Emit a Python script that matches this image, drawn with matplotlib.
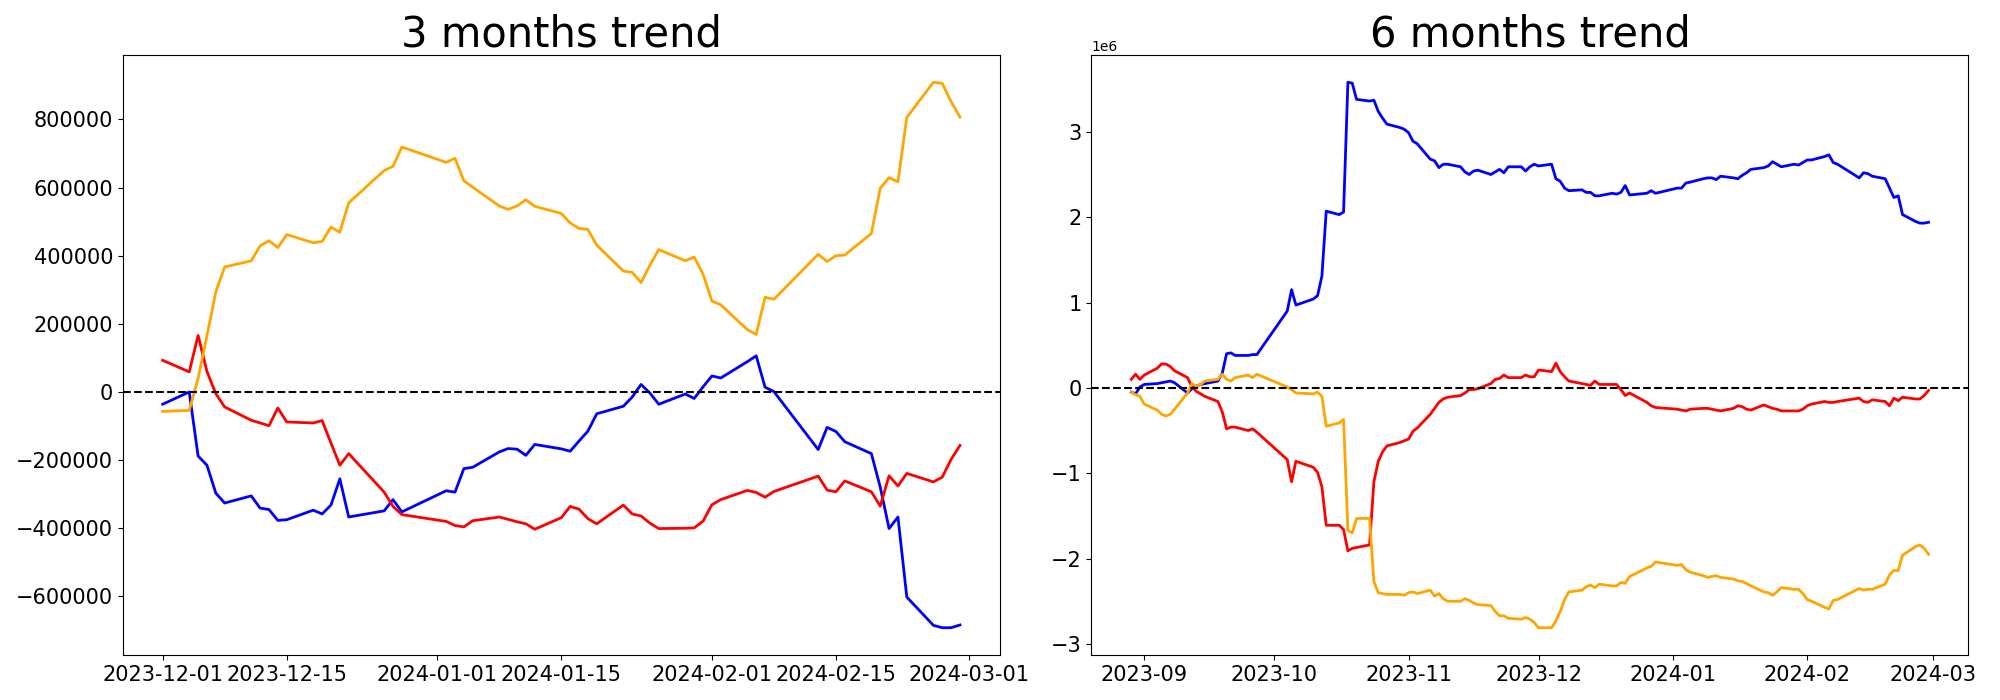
import pandas as pd
import matplotlib
matplotlib.use("Agg")
import matplotlib.pyplot as plt

# KRX closing days inside the plotted ranges
holidays = ['2023-09-28', '2023-09-29', '2023-10-02', '2023-10-03', '2023-10-09',
            '2023-12-25', '2023-12-29', '2024-01-01', '2024-02-09', '2024-02-12']

dates_3m = pd.bdate_range('2023-12-01', '2024-02-29', freq='C', holidays=holidays)
dates_6m = pd.bdate_range('2023-08-29', '2024-02-29', freq='C', holidays=holidays)

# 3 months (Dec / Jan / Feb)
blue_3m = [-36000, 0, -188000, -215000, -297000, -326000, -305000, -341000, -345000, -377000,
           -375000, -347000, -358000, -332000, -255000, -367000, -349000, -316000, -352000,
           -290000, -294000, -225000, -221000, -176000, -166000, -168000, -186000, -154000,
           -167000, -174000, -144000, -115000, -64000, -42000, -15000, 22000, -3000, -36000,
           -6000, -19000, 15000,
           47000, 41000, 89000, 106000, 14000, 1000, -169000, -104000, -116000, -146000,
           -181000, -279000, -401000, -367000, -602000, -685000, -692000, -692000, -684000]
red_3m = [93000, 59000, 166000, 60000, -5000, -44000, -83000, -91000, -99000, -47000,
          -88000, -91000, -84000, -150000, -215000, -181000, -294000, -336000, -360000,
          -380000, -392000, -396000, -378000, -367000, -374000, -381000, -387000, -403000,
          -369000, -336000, -344000, -372000, -387000, -332000, -358000, -364000, -385000,
          -401000, -400000, -399000, -379000,
          -331000, -316000, -289000, -295000, -309000, -292000, -247000, -288000, -293000,
          -261000, -293000, -335000, -246000, -276000, -239000, -264000, -250000, -198000, -157000]
orange_3m = [-57000, -54000, 40000, 165000, 294000, 367000, 385000, 429000, 444000, 424000,
             462000, 438000, 442000, 484000, 469000, 555000, 650000, 662000, 719000,
             674000, 686000, 620000, 601000, 546000, 536000, 546000, 564000, 545000,
             524000, 496000, 480000, 477000, 431000, 355000, 351000, 321000, 372000, 418000,
             385000, 396000, 346000,
             267000, 256000, 183000, 169000, 278000, 272000, 404000, 383000, 400000, 402000,
             465000, 598000, 629000, 617000, 806000, 909000, 906000, 852000, 807000]

# 6 months, in millions
blue_6m = [-0.05, -0.07, 0.01,
           0.04, 0.05, 0.06, 0.07, 0.08, 0.06, -0.06, -0.01, 0.02, 0.04, 0.05, 0.08, 0.17,
           0.40, 0.41, 0.38, 0.38, 0.39, 0.39,
           0.90, 1.15, 0.97, 1.04, 1.08, 1.31, 2.07, 2.03, 2.06, 3.58, 3.57, 3.38, 3.36, 3.37,
           3.24, 3.16, 3.09, 3.05, 3.03,
           2.99, 2.89, 2.86, 2.68, 2.66, 2.58, 2.62, 2.62, 2.59, 2.53, 2.50, 2.54, 2.55, 2.50,
           2.53, 2.56, 2.52, 2.59, 2.59, 2.54, 2.59, 2.62,
           2.60, 2.62, 2.45, 2.42, 2.34, 2.31, 2.32, 2.29, 2.29, 2.25, 2.25, 2.28, 2.27, 2.29,
           2.37, 2.26, 2.28, 2.31, 2.28,
           2.34, 2.34, 2.40, 2.41, 2.45, 2.46, 2.46, 2.44, 2.48, 2.46, 2.45, 2.49, 2.52, 2.56,
           2.58, 2.60, 2.65, 2.62, 2.59, 2.62, 2.61, 2.64,
           2.67, 2.67, 2.71, 2.73, 2.64, 2.62, 2.46, 2.52, 2.51, 2.48, 2.45, 2.34, 2.23, 2.25,
           2.03, 1.95, 1.93, 1.93, 1.94]
red_6m = [0.10, 0.16, 0.10,
          0.15, 0.23, 0.28, 0.28, 0.25, 0.20, 0.12, 0.01, -0.04, -0.07, -0.10, -0.16, -0.28,
          -0.48, -0.46, -0.46, -0.50, -0.48, -0.52,
          -0.84, -1.10, -0.86, -0.93, -0.99, -1.16, -1.61, -1.61, -1.66, -1.91, -1.88, -1.87,
          -1.84, -1.10, -0.86, -0.75, -0.68, -0.64, -0.62,
          -0.60, -0.51, -0.47, -0.31, -0.24, -0.17, -0.13, -0.11, -0.09, -0.06, -0.02, -0.02,
          -0.01, 0.05, 0.10, 0.11, 0.15, 0.12, 0.12, 0.15, 0.13, 0.13,
          0.21, 0.19, 0.29, 0.19, 0.13, 0.08, 0.05, 0.04, 0.03, 0.08, 0.04, 0.04, 0.04, -0.02,
          -0.09, -0.06, -0.17, -0.21, -0.23,
          -0.25, -0.26, -0.27, -0.25, -0.24, -0.24, -0.25, -0.26, -0.27, -0.24, -0.21, -0.22,
          -0.25, -0.26, -0.20, -0.22, -0.24, -0.25, -0.27, -0.27, -0.27, -0.25,
          -0.21, -0.19, -0.16, -0.17, -0.17, -0.16, -0.12, -0.16, -0.17, -0.14, -0.16, -0.21,
          -0.12, -0.15, -0.11, -0.13, -0.13, -0.09, -0.03]
orange_6m = [-0.05, -0.08, -0.10,
             -0.19, -0.26, -0.31, -0.33, -0.31, -0.25, -0.06, 0.05, 0.02, 0.04, 0.08, 0.10, 0.16,
             0.10, 0.08, 0.12, 0.15, 0.12, 0.16,
             0.01, -0.02, -0.06, -0.07, -0.05, -0.10, -0.45, -0.41, -0.37, -1.67, -1.70, -1.53,
             -1.53, -2.27, -2.40, -2.41, -2.42, -2.42, -2.43,
             -2.40, -2.39, -2.41, -2.37, -2.44, -2.41, -2.47, -2.50, -2.50, -2.47, -2.49, -2.52,
             -2.54, -2.55, -2.62, -2.67, -2.67, -2.70, -2.71, -2.69, -2.71, -2.75,
             -2.81, -2.81, -2.73, -2.62, -2.48, -2.39, -2.37, -2.33, -2.31, -2.34, -2.30, -2.32,
             -2.32, -2.28, -2.29, -2.21, -2.11, -2.09, -2.04,
             -2.08, -2.07, -2.13, -2.16, -2.20, -2.22, -2.21, -2.20, -2.22, -2.24, -2.26, -2.27,
             -2.29, -2.32, -2.39, -2.40, -2.43, -2.39, -2.34, -2.36, -2.36, -2.41,
             -2.48, -2.50, -2.57, -2.59, -2.49, -2.48, -2.35, -2.37, -2.36, -2.36, -2.30, -2.19,
             -2.14, -2.14, -1.96, -1.86, -1.84, -1.88, -1.95]

fig, (ax1, ax2) = plt.subplots(1, 2, figsize=(20, 7), dpi=100)
fig.subplots_adjust(left=0.0614, right=0.9842, top=0.9214, bottom=0.0643, wspace=0.1044)

ax1.plot(dates_3m, blue_3m, color='blue', linewidth=2)
ax1.plot(dates_3m, red_3m, color='red', linewidth=2)
ax1.plot(dates_3m, orange_3m, color='orange', linewidth=2)
ax1.axhline(0, color='black', linestyle='--', linewidth=1.5)
ax1.set_title('3 months trend', fontsize=30)
ax1.tick_params(labelsize=15)

ax2.plot(dates_6m, [v * 1e6 for v in blue_6m], color='blue', linewidth=2)
ax2.plot(dates_6m, [v * 1e6 for v in red_6m], color='red', linewidth=2)
ax2.plot(dates_6m, [v * 1e6 for v in orange_6m], color='orange', linewidth=2)
ax2.axhline(0, color='black', linestyle='--', linewidth=1.5)
ax2.set_title('6 months trend', fontsize=30)
ax2.tick_params(labelsize=15)

plt.savefig('out.png')
